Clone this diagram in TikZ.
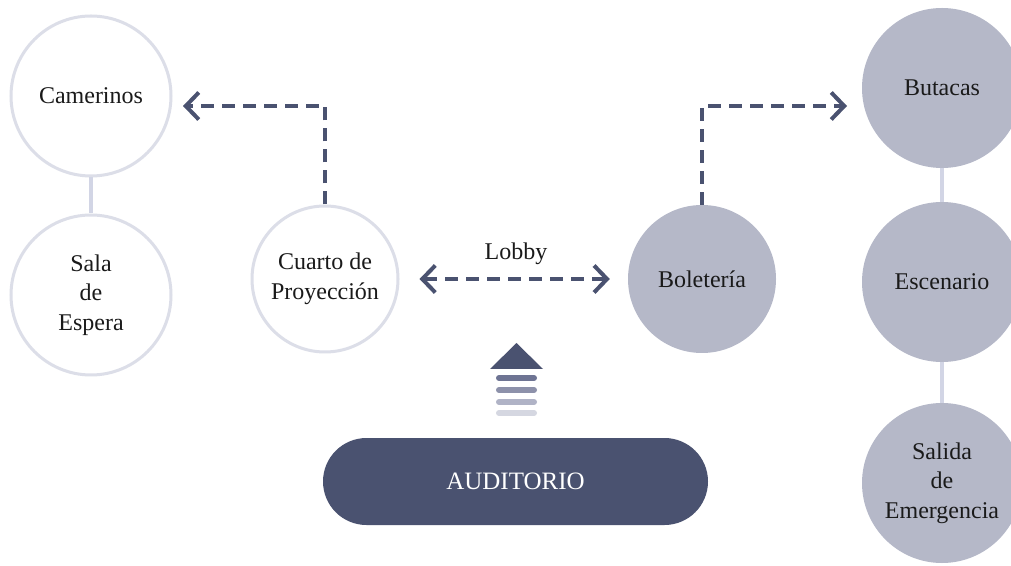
\documentclass[tikz,border=0pt]{standalone}
\usepackage{fontspec}
\setmainfont{LiberationSerif}[Extension=.ttf, UprightFont=*-Regular, BoldFont=*-Bold, ItalicFont=*-Italic]
\usetikzlibrary{arrows.meta}
\definecolor{navy}{HTML}{4A5270}
\definecolor{lightring}{HTML}{DCDEE8}
\definecolor{linklight}{HTML}{D2D5E5}
\definecolor{grayfill}{HTML}{B5B8C8}
\definecolor{txt}{HTML}{1A1A1A}
\definecolor{barone}{HTML}{6E7493}
\definecolor{bartwo}{HTML}{8D91AA}
\definecolor{barthree}{HTML}{B0B3C6}
\definecolor{barfour}{HTML}{D5D7E1}
\begin{document}
\begin{tikzpicture}[x=1pt,y=1pt,
  lbl/.style={font=\fontsize{24}{29.5}\selectfont, text=txt, align=center},
  ringnode/.style={circle, draw=lightring, line width=3pt, fill=white, minimum size=#1, inner sep=0pt, lbl},
  fillnode/.style={circle, fill=grayfill, minimum size=#1, inner sep=0pt, lbl},
  link/.style={draw=linklight, line width=4pt},
  flow/.style={draw=navy, line width=4pt, dash pattern=on 13pt off 8pt},
  stackbar/.style={line width=6pt, line cap=round},
  >={Straight Barb[length=13pt,width=27pt]}
]
\useasboundingbox (0,0) rectangle (1011,565);
\fill[white] (0,0) rectangle (1011,565);

% left column
\node[ringnode=160pt] (cam) at (91,469) {Camerinos};
\node[ringnode=160pt] (sala) at (91,270) {Sala\\de\\Espera};
\draw[link] (cam.south) -- (sala.north);

% projection room
\node[ringnode=146pt] (cuarto) at (325,286) {Cuarto de\\Proyección};

% ticket office
\node[fillnode=148pt] (bol) at (702,286) {Boletería};

% right column
\node[fillnode=160pt] (but) at (942,477) {Butacas};
\node[fillnode=160pt] (esc) at (942,283) {Escenario};
\node[fillnode=160pt] (sal) at (942,82) {Salida\\de\\Emergencia};
\draw[link] (but.south) -- (esc.north);
\draw[link] (esc.south) -- (sal.north);

% dashed flows
\coordinate (tipcam) at (183,459);
\coordinate (tipbut) at (847,459);
\draw[flow, ->] (cuarto.north) |- (tipcam);
\draw[flow, ->] (bol.north) |- (tipbut);
\draw[flow, <->, shorten <=20pt, shorten >=18pt] (cuarto) -- (bol);
\node[lbl] (lobby) at (516,311) {Lobby};

% up arrow stack
\fill[navy] (490,196) -- (516.5,222) -- (543,196) -- cycle;
\draw[stackbar, barone] (499,187) -- (534,187);
\draw[stackbar, bartwo] (499,175) -- (534,175);
\draw[stackbar, barthree] (499,163) -- (534,163);
\draw[stackbar, barfour] (499,152) -- (534,152);

% auditorium
\node[fill=navy, rounded corners=43.5pt, minimum width=385pt, minimum height=87pt, inner sep=0pt,
      text=white, font=\fontsize{25}{30}\selectfont] (aud) at (515.5,83.5) {AUDITORIO};
\end{tikzpicture}
\end{document}
